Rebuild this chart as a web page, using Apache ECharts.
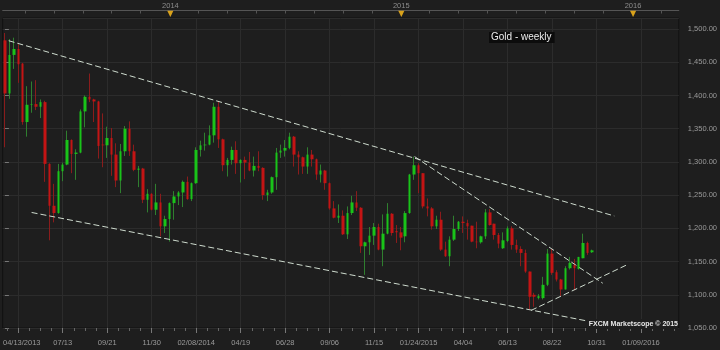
<!DOCTYPE html>
<html><head><meta charset="utf-8">
<script src="https://cdn.jsdelivr.net/npm/echarts@6/dist/echarts.min.js"></script>
<style>html,body{margin:0;padding:0;background:#1e1e1e}#c{width:720px;height:350px}</style>
</head><body><div id="c"></div>
<script>
// ---- data ----
const weekCount = 152; // weekly slots on the axis, from the week of 04/13/2013
// [open, close, low, high]
const ohlc = [
[1483,1403,1322,1494],[1403,1461,1395,1485],[1461,1470,1440,1487],[1470,1447,1419,1477],
[1448,1360,1356,1449],[1360,1386,1338,1414],[1386,1387,1374,1421],[1387,1383,1378,1423],
[1383,1390,1366,1394],[1390,1297,1270,1392],[1297,1234,1182,1298],[1234,1223,1209,1267],
[1223,1286,1222,1297],[1286,1296,1271,1299],[1296,1333,1295,1347],[1333,1312,1283,1334],
[1312,1314,1273,1319],[1314,1376,1313,1379],[1376,1398,1352,1400],[1398,1394,1390,1433],
[1394,1391,1360,1395],[1391,1324,1305,1392],[1326,1325,1292,1373],[1325,1336,1306,1353],
[1336,1311,1279,1351],[1311,1272,1262,1328],[1272,1316,1253,1327],[1316,1350,1309,1354],
[1350,1316,1309,1361],[1316,1288,1286,1326],[1288,1290,1262,1294],[1290,1243,1238,1291],
[1243,1252,1224,1259],[1252,1228,1227,1253],[1228,1239,1220,1267],[1239,1203,1188,1252],
[1203,1214,1193,1219],[1214,1238,1180,1239],[1238,1248,1213,1256],[1248,1254,1235,1256],
[1254,1270,1232,1272],[1270,1244,1243,1278],[1244,1268,1241,1269],[1268,1318,1267,1322],
[1318,1325,1308,1332],[1325,1326,1317,1344],[1326,1340,1325,1355],[1340,1383,1329,1389],
[1383,1334,1321,1391],[1334,1295,1286,1335],[1295,1303,1278,1306],[1303,1318,1296,1323],
[1318,1298,1282,1331],[1298,1303,1269,1304],[1303,1299,1274,1308],[1299,1287,1286,1315],
[1287,1294,1278,1308],[1294,1291,1286,1316],[1291,1250,1243,1292],[1250,1254,1241,1258],
[1254,1277,1252,1278],[1277,1314,1258,1321],[1314,1317,1306,1326],[1317,1321,1308,1333],
[1321,1338,1319,1344],[1338,1311,1293,1339],[1311,1307,1281,1316],[1307,1293,1282,1308],
[1293,1311,1282,1322],[1311,1304,1293,1318],[1304,1281,1273,1305],[1281,1287,1269,1296],
[1287,1268,1258,1288],[1268,1230,1228,1269],[1230,1216,1215,1241],[1216,1219,1208,1236],
[1219,1191,1190,1227],[1191,1223,1184,1233],[1223,1239,1220,1249],[1239,1231,1226,1256],
[1231,1173,1163,1232],[1173,1179,1130,1180],[1179,1189,1160,1202],[1189,1202,1175,1208],
[1202,1168,1167,1207],[1168,1192,1143,1221],[1192,1222,1191,1238],[1222,1193,1189,1223],
[1196,1194,1178,1205],[1194,1186,1167,1202],[1188,1223,1179,1226],[1223,1281,1222,1282],
[1281,1295,1273,1308],[1295,1283,1253,1298],[1283,1233,1230,1283],[1233,1230,1218,1245],
[1230,1203,1198,1232],[1203,1213,1199,1219],[1213,1168,1166,1225],[1168,1158,1157,1180],
[1158,1183,1143,1188],[1183,1199,1181,1219],[1199,1210,1196,1211],[1210,1208,1193,1218],
[1208,1203,1183,1213],[1204,1180,1179,1204],[1180,1179,1170,1210],[1179,1188,1177,1189],
[1188,1224,1184,1229],[1224,1205,1204,1229],[1207,1190,1183,1207],[1190,1177,1170,1193],
[1170,1182,1169,1194],[1181,1200,1179,1203],[1200,1175,1168,1203],[1175,1168,1163,1183],
[1169,1163,1143,1173],[1163,1135,1133,1168],[1135,1097,1078,1135],[1100,1097,1082,1103],
[1095,1098,1093,1101],[1095,1115,1093,1127],[1115,1162,1113,1169],[1162,1133,1130,1169],
[1134,1123,1120,1137],[1123,1108,1098,1124],[1108,1140,1108,1143],[1140,1148,1138,1157],
[1145,1140,1107,1154],[1139,1157,1138,1157],[1155,1178,1155,1192],[1178,1163,1160,1180],
[1164,1166.86,1163,1168]
];
const xLabels = ['04/13/2013','07/13','09/21','11/30','02/08/2014','04/19','06/28','09/06','11/15','01/24/2015','04/04','06/13','08/22','10/31','01/09/2016'];
const xLabelWeek = [3,13,23,33,43,53,63,73,83,93,103,113,123,133,143];
const yearLabels = ['2014','2015','2016'];
const yearWeek = [37.2,89.1,141.2];
const yTicks = [1050,1100,1150,1200,1250,1300,1350,1400,1450,1500];
// trend lines: [weekIndex, price] endpoints
const lineUpper = [[0.85,1482.4],[137.0,1218.6]];
const lineLower = [[6.0,1223.9],[131.4,1059.9]];
const lineJanHigh = [[92.1,1308.0],[134.4,1117.4]];
const lineJulLow = [[118.3,1076.5],[139.9,1145.3]];
const chartTitle = 'Gold - weekly';
const watermark = 'FXCM Marketscope \u00A9 2015';

// ---- chart ----
const categories = Array.from({length: weekCount}, (_, i) => String(i));
const lastPrice = ohlc[ohlc.length - 1][1];
const bodies = ohlc.map(d => [d[0], d[1], Math.min(d[0], d[1]), Math.max(d[0], d[1])]);
const fmtPrice = v => Number(v).toLocaleString('en-US', {minimumFractionDigits: 2, maximumFractionDigits: 2});
const minorWeeks = [];
for (let v = 0.5; v < weekCount - 0.5; v += 2.5) { if (!xLabelWeek.includes(v)) minorWeeks.push(v); }
const topTicks = [];
for (let v = 4.5; v < weekCount - 0.5; v += 6.5) topTicks.push(v);

const FONT = 'Liberation Sans, Arial, sans-serif';
const gridC = '#2c2c2c';
const txtC = '#9a9a9a';
const vAxisBase = {type: 'value', gridIndex: 0, min: -0.5, max: weekCount - 0.5, scale: true};
const trendStyle = {color: '#cfdccf', width: 1, type: [6, 3]};
const trend = (d) => ({type: 'line', xAxisIndex: 1, yAxisIndex: 0, data: d, symbol: 'none',
  lineStyle: trendStyle, silent: true, z: 4, animation: false});

const chart = echarts.init(document.getElementById('c'), null, {renderer: 'canvas'});
chart.setOption({
  backgroundColor: '#1e1e1e',
  animation: false,
  textStyle: {fontFamily: FONT},
  title: [
    {text: chartTitle, left: 489, top: 32, padding: [0, 3, 0, 2], backgroundColor: '#0c0c0c',
     textStyle: {color: '#ececec', fontSize: 10, fontWeight: 'normal', fontFamily: FONT, lineHeight: 11}},
    {text: watermark, right: 42, top: 319, padding: [0, 0, 0, 2], backgroundColor: '#1e1e1e',
     textStyle: {color: '#e8e8e8', fontSize: 7, fontWeight: 'bold', fontFamily: FONT, lineHeight: 10}}
  ],
  grid: {left: 0, right: 41, top: 18, bottom: 22, show: true, borderColor: '#111', borderWidth: 1, backgroundColor: 'transparent'},
  xAxis: [
    {type: 'category', gridIndex: 0, data: categories, boundaryGap: true,
     axisLine: {show: false}, axisTick: {show: false}, axisLabel: {show: false}, splitLine: {show: false}},
    Object.assign({}, vAxisBase, {position: 'bottom',
     axisLine: {show: false},
     axisTick: {show: true, customValues: xLabelWeek, length: 5, lineStyle: {color: '#777'}},
     axisLabel: {show: true, customValues: xLabelWeek, margin: 11, color: txtC, fontSize: 7.5, fontFamily: FONT,
       formatter: v => { const k = xLabelWeek.indexOf(Math.round(v)); if (k < 0) return ''; return k === 0 ? '{f|' + xLabels[k] + '}' : xLabels[k]; },
       rich: {f: {padding: [0, 0, 0, 7], color: txtC, fontSize: 7.5, fontFamily: FONT}}},
     splitLine: {show: true, lineStyle: {color: gridC, width: 1}}}),
    Object.assign({}, vAxisBase, {position: 'bottom',
     axisLine: {show: false},
     axisTick: {show: true, customValues: minorWeeks, length: 3, lineStyle: {color: '#666'}},
     axisLabel: {show: false}, splitLine: {show: false}}),
    Object.assign({}, vAxisBase, {position: 'top', offset: 7.5,
     axisLine: {show: true, lineStyle: {color: '#555'}},
     axisTick: {show: true, inside: true, customValues: topTicks, length: 3, lineStyle: {color: '#555'}},
     axisLabel: {show: true, customValues: yearWeek, margin: -7,
       formatter: v => { const k = yearWeek.indexOf(v); return k < 0 ? '' : '{y|' + yearLabels[k] + '}\n{t|\u25BC}'; },
       rich: {y: {color: '#8c8c8c', fontSize: 7.5, lineHeight: 10, fontFamily: FONT},
              t: {color: '#d9a21b', fontSize: 8, lineHeight: 7, fontFamily: 'DejaVu Sans'}}},
     splitLine: {show: false}})
  ],
  yAxis: [{
    type: 'value', gridIndex: 0, position: 'right', min: 1050, max: 1516.6, interval: 50,
    axisLine: {show: false},
    axisTick: {show: true, length: 4, lineStyle: {color: '#777'}},
    axisLabel: {show: true, margin: 9, color: txtC, fontSize: 7.5, fontFamily: FONT, showMaxLabel: false,
      formatter: v => yTicks.includes(v) ? fmtPrice(v) : ''},
    splitLine: {show: true, lineStyle: {color: gridC, width: 1}}
  }],
  series: [
    {type: 'candlestick', name: 'wick', xAxisIndex: 0, yAxisIndex: 0, data: ohlc, barWidth: 1, z: 3,
     itemStyle: {color: '#2f7f2f', color0: '#8a1c1c', borderColor: '#2f7f2f', borderColor0: '#8a1c1c', borderWidth: 1},
     markLine: {silent: true, symbol: 'none', animation: false,
       lineStyle: {width: 0, opacity: 0},
       label: {show: true, position: 'end', distance: 8, formatter: () => fmtPrice(lastPrice),
         backgroundColor: '#4aa3df', color: '#ffffff', fontSize: 7.5, fontFamily: FONT, padding: [1, 2, 1, 2]},
       data: [{yAxis: lastPrice}]}},
    {type: 'candlestick', name: 'body', xAxisIndex: 0, yAxisIndex: 0, data: bodies, barWidth: 3, z: 5,
     itemStyle: {color: '#19c419', color0: '#c41414', borderColor: '#19c419', borderColor0: '#c41414', borderWidth: 0}},
    trend(lineUpper), trend(lineLower), trend(lineJanHigh), trend(lineJulLow)
  ]
});
</script></body></html>
